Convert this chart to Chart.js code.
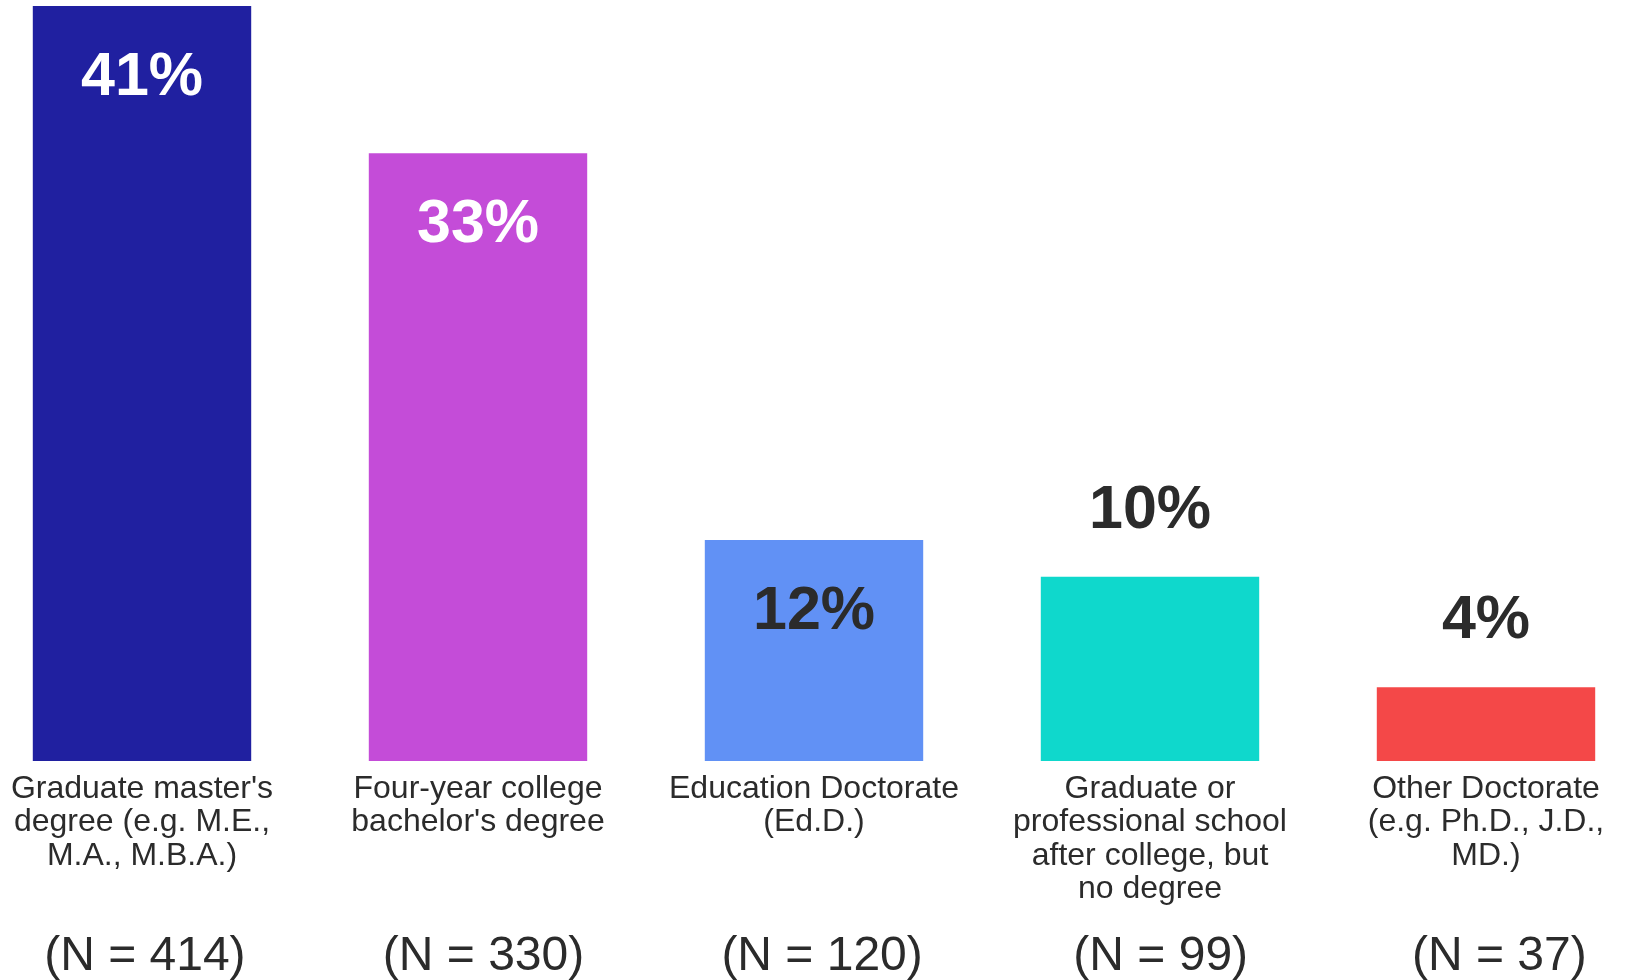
<!DOCTYPE html>
<html>
<head>
<meta charset="utf-8">
<script src="https://cdn.jsdelivr.net/npm/chart.js@4/dist/chart.umd.min.js"></script>
<style>
  html, body { margin: 0; padding: 0; background: #fff; overflow: hidden; }
  /* the plot area runs a little past both window edges in the reference */
  #wrap { width: 1680px; height: 997px; margin-left: -26px; }
</style>
</head>
<body>
<div id="wrap"><canvas id="degreeChart" width="1680" height="997"></canvas></div>
<script>
// data
const categories = [
  ["Graduate master's", "degree (e.g. M.E.,", "M.A., M.B.A.)"],
  ["Four-year college", "bachelor's degree"],
  ["Education Doctorate", "(Ed.D.)"],
  ["Graduate or", "professional school", "after college, but", "no degree"],
  ["Other Doctorate", "(e.g. Ph.D., J.D.,", "MD.)"]
];
const sampleSizes = ["(N = 414)", "(N = 330)", "(N = 120)", "(N = 99)", "(N = 37)"];
const percents = [41, 33, 12, 10, 4];

const barColors = ["#2020a0", "#c44cd8", "#6191f5", "#0fd8cc", "#f44848"];
const labelColors = ["#ffffff", "#ffffff", "#2b2b2b", "#2b2b2b", "#2b2b2b"];
const textColor = "#2b2b2b";
const fontFamily = "'Liberation Sans', Arial, Helvetica, sans-serif";

// percent labels: inside the tall bars, above the short ones
const valueLabels = {
  id: "valueLabels",
  afterDatasetsDraw(chart) {
    const ctx = chart.ctx;
    const meta = chart.getDatasetMeta(0);
    ctx.save();
    ctx.font = "bold 61px " + fontFamily;
    ctx.textAlign = "center";
    ctx.textBaseline = "middle";
    meta.data.forEach((bar, i) => {
      const v = percents[i];
      const y = v >= 12 ? bar.y + 72 : bar.y - 66;
      ctx.fillStyle = labelColors[i];
      ctx.fillText(v + "%", bar.x, y);
    });
    ctx.restore();
  }
};

const ctx = document.getElementById("degreeChart").getContext("2d");
new Chart(ctx, {
  type: "bar",
  data: {
    labels: categories,
    datasets: [{
      data: percents,
      backgroundColor: barColors,
      borderWidth: 0,
      barPercentage: 0.65,
      categoryPercentage: 1.0
    }]
  },
  options: {
    responsive: false,
    animation: false,
    layout: { padding: { left: 0, right: 0, top: 6, bottom: 0 } },
    plugins: {
      legend: { display: false },
      tooltip: { enabled: false }
    },
    scales: {
      y: {
        display: false,
        min: 0,
        max: 41
      },
      x: {
        position: "bottom",
        grid: { display: false, drawTicks: false },
        border: { display: false },
        ticks: {
          color: textColor,
          padding: 11,
          maxRotation: 0,
          autoSkip: false,
          font: { family: fontFamily, size: 32, lineHeight: 1.05 }
        }
      },
      // the N row is spaced a bit wider than the bars in the reference
      x2: {
        type: "linear",
        position: "bottom",
        offset: false,
        bounds: "data",
        min: -0.5047,
        max: 4.4569,
        afterBuildTicks: (axis) => {
          axis.ticks = sampleSizes.map((s, i) => ({ value: i }));
        },
        grid: { display: false, drawTicks: false },
        border: { display: false },
        ticks: {
          color: textColor,
          padding: 11,
          maxRotation: 0,
          autoSkip: false,
          font: { family: fontFamily, size: 48, lineHeight: 1.2 },
          callback: (value) => sampleSizes[Math.round(value)]
        }
      }
    }
  },
  plugins: [valueLabels]
});
</script>
</body>
</html>
